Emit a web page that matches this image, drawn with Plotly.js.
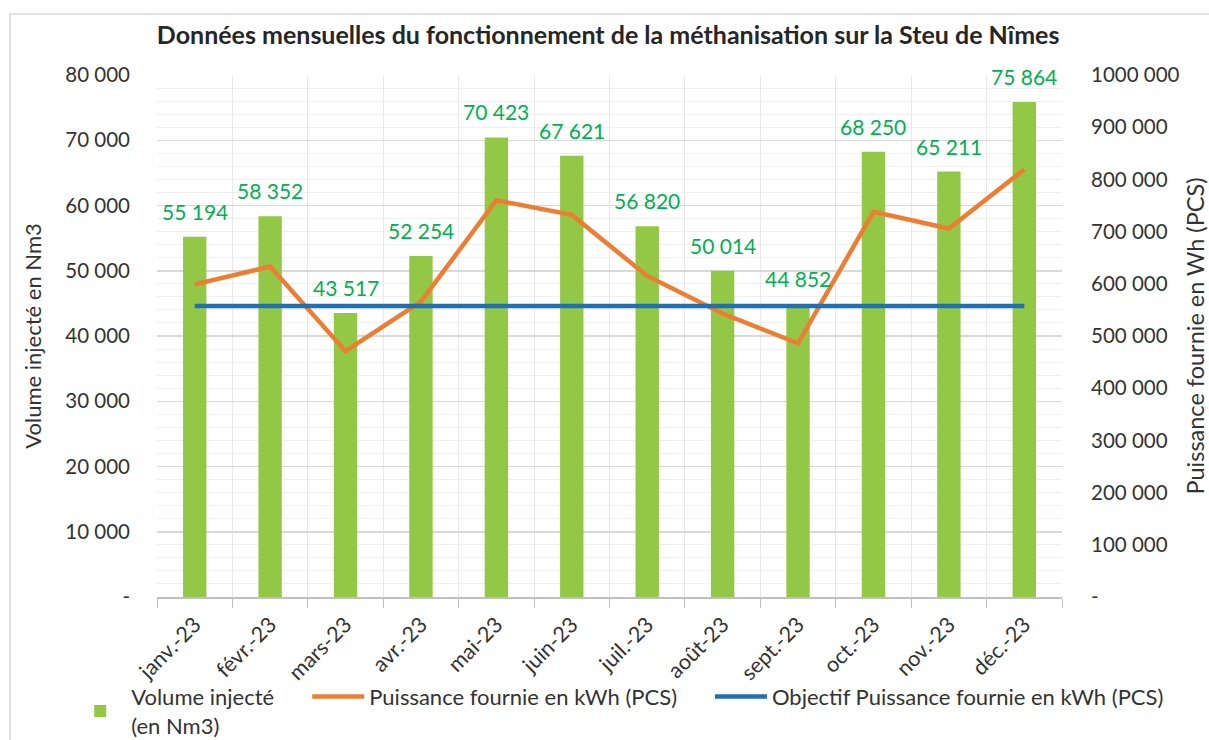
<!DOCTYPE html>
<html><head><meta charset="utf-8">
<script src="https://cdn.plot.ly/plotly-3.0.1.min.js"></script>
<style>html,body{margin:0;padding:0;background:#fff}#chart{width:1209px;height:740px}</style>
</head><body><div id="chart"></div>
<script>
const months = ['janv.-23','févr.-23','mars-23','avr.-23','mai-23','juin-23','juil.-23','août-23','sept.-23','oct.-23','nov.-23','déc.-23'];
const volume = [55194, 58352, 43517, 52254, 70423, 67621, 56820, 50014, 44852, 68250, 65211, 75864];
const puissance = [599000, 633000, 471000, 566000, 760000, 732000, 615000, 543000, 486000, 738000, 706000, 819000];
const objectif = [557500, 557500, 557500, 557500, 557500, 557500, 557500, 557500, 557500, 557500, 557500, 557500];
const leftTickVals = [0, 10000, 20000, 30000, 40000, 50000, 60000, 70000, 80000];
const leftTickText = ['-', '10 000', '20 000', '30 000', '40 000', '50 000', '60 000', '70 000', '80 000'];
const rightTickVals = [0, 100000, 200000, 300000, 400000, 500000, 600000, 700000, 800000, 900000, 1000000];
const rightTickText = ['-', '100 000', '200 000', '300 000', '400 000', '500 000', '600 000', '700 000', '800 000', '900 000', '1000 000'];

const FONT = 'Lato, "Open Sans", sans-serif';
const TXT = '#333333';
function fmt(v){ return String(v).replace(/\B(?=(\d{3})+(?!\d))/g, ' '); }

const traces = [
  {type:'bar', x:months, y:volume, name:'Volume injecté<br>(en Nm3)', marker:{color:'#92C846'}, width:0.31, legend:'legend', hoverinfo:'skip'},
  {type:'scatter', mode:'lines', x:months, y:puissance, yaxis:'y2', name:'Puissance fournie en kWh (PCS)', line:{color:'#ED7D31', width:4.5}, legend:'legend2', hoverinfo:'skip'},
  {type:'scatter', mode:'lines', x:months, y:objectif, yaxis:'y2', name:'Objectif Puissance fournie en kWh (PCS)', line:{color:'#1F6FB5', width:4.5}, legend:'legend3', hoverinfo:'skip'}
];

const annotations = months.map((m, i) => ({
  x: m, y: volume[i], xref:'x', yref:'y', text: fmt(volume[i]), showarrow:false,
  yanchor:'bottom', yshift: 11, font:{family:FONT, size:21, color:'#00B050'}
}));

const legendBase = {orientation:'h', yanchor:'top', xanchor:'left', y:-0.151, font:{family:FONT, size:22, color:TXT}, bgcolor:'rgba(0,0,0,0)', itemwidth:52, tracegroupgap:0};

const layout = {
  width:1209, height:740,
  margin:{l:157, r:147, t:75, b:143, autoexpand:false},
  paper_bgcolor:'#ffffff', plot_bgcolor:'#ffffff',
  font:{family:FONT, color:TXT},
  title:{text:'<b>Données mensuelles du fonctionnement de la méthanisation sur la Steu de Nîmes</b>', font:{family:FONT, size:25, color:'#262626'}, x:0.503, xanchor:'center', y:0.953, yanchor:'middle'},
  bargap:0.69,
  xaxis:{type:'category', range:[-0.5, 11.5], automargin:false, tickson:'boundaries', showgrid:true, gridcolor:'#e8e8e8', gridwidth:1,
         ticks:'outside', ticklen:9, tickcolor:'#bfbfbf', showline:true, linecolor:'#bfbfbf', linewidth:1.5,
         tickangle:-45, ticklabelstandoff:5, tickfont:{family:FONT, size:21.5, color:TXT}, fixedrange:true},
  yaxis:{range:[0, 80000], automargin:false, tickvals:leftTickVals, ticktext:leftTickText, showgrid:true, gridcolor:'#d9d9d9', gridwidth:1.5,
         minor:{dtick:2000, showgrid:true, gridcolor:'#f0f0f0', gridwidth:1}, zeroline:false, showline:false, ticks:'',
         ticklabelstandoff:26, tickfont:{family:FONT, size:20.5, color:TXT},
         title:{text:'Volume injecté en Nm3', font:{family:FONT, size:22, color:TXT}, standoff:17}, fixedrange:true},
  yaxis2:{overlaying:'y', side:'right', range:[0, 1000000], automargin:false, tickvals:rightTickVals, ticktext:rightTickText, showgrid:false, zeroline:false, showline:false, ticks:'',
         ticklabelstandoff:28, tickfont:{family:FONT, size:20.5, color:TXT},
         title:{text:'Puissance fournie en Wh (PCS)', font:{family:FONT, size:23.5, color:TXT}, standoff:17}, fixedrange:true},
  showlegend:true,
  legend:Object.assign({}, legendBase, {x:-0.097}),
  legend2:Object.assign({}, legendBase, {x:0.166}),
  legend3:Object.assign({}, legendBase, {x:0.611}),
  annotations: annotations,
  shapes:[{type:'rect', xref:'paper', yref:'paper', x0:-0.1624, x1:1.25, y0:-0.4, y1:1.1169, line:{color:'#d9d9d9', width:1.5}, fillcolor:'rgba(0,0,0,0)', layer:'below'}]
};

Plotly.newPlot('chart', traces, layout, {staticPlot:true, displayModeBar:false});
</script></body></html>
